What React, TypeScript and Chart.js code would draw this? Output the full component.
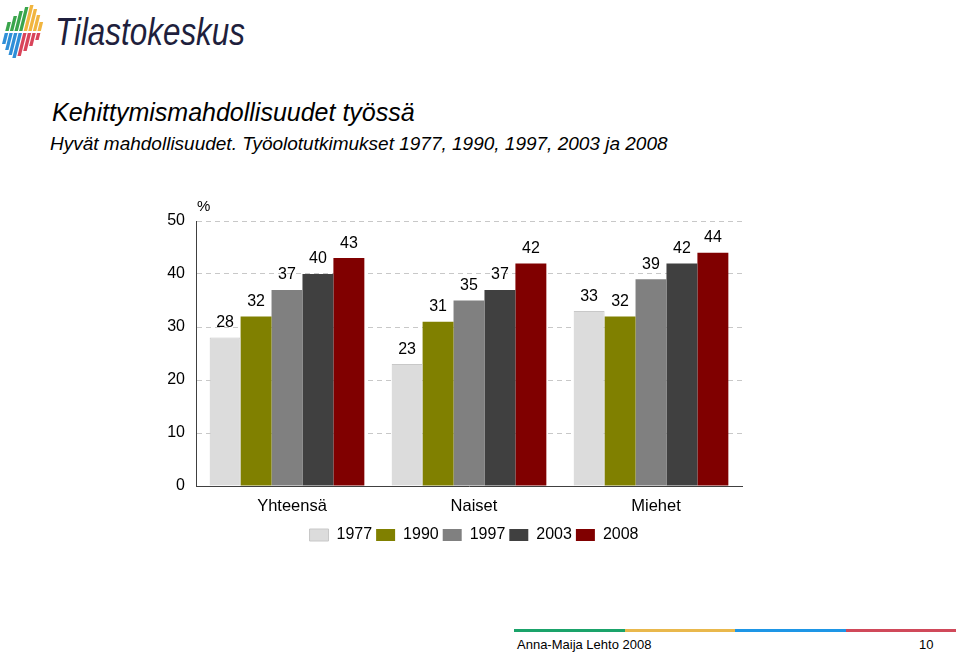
import React, { useEffect, useRef } from "react";
import { Chart, registerables } from "chart.js";

Chart.register(...registerables);

const FONT = "'Liberation Sans', Arial, sans-serif";

const categories = ["Yhteensä", "Naiset", "Miehet"];
const years = ["1977", "1990", "1997", "2003", "2008"];
const values1977 = [28, 23, 33];
const values1990 = [32, 31, 32];
const values1997 = [37, 35, 39];
const values2003 = [40, 37, 42];
const values2008 = [43, 42, 44];
const seriesColors = ["#dcdcdc", "#808000", "#808080", "#404040", "#800000"];
const yTicks = [0, 10, 20, 30, 40, 50];

const title = "Kehittymismahdollisuudet työssä";
const subtitle = "Hyvät mahdollisuudet. Työolotutkimukset 1977, 1990, 1997, 2003 ja 2008";
const author = "Anna-Maija Lehto 2008";
const pageNo = "10";

const valueLabels = {
  id: "valueLabels",
  afterDatasetsDraw(chart: any) {
    const ctx = chart.ctx;
    ctx.save();
    ctx.font = `16px ${FONT}`;
    ctx.fillStyle = "#000";
    ctx.textAlign = "center";
    ctx.textBaseline = "middle";
    chart.data.datasets.forEach((ds: any, di: number) => {
      const meta = chart.getDatasetMeta(di);
      meta.data.forEach((bar: any, i: number) => {
        ctx.fillText(String(ds.data[i]), bar.x, bar.y - 15);
      });
    });
    const a = chart.chartArea;
    ctx.textAlign = "left";
    ctx.font = `15px ${FONT}`;
    ctx.fillText("%", a.left + 1, a.top - 14);
    ctx.restore();
  },
};

function BarChart() {
  const ref = useRef<HTMLCanvasElement | null>(null);
  useEffect(() => {
    if (!ref.current) return;
    const all = [values1977, values1990, values1997, values2003, values2008];
    const chart = new Chart(ref.current, {
      type: "bar",
      data: {
        labels: categories,
        datasets: years.map((y, i) => ({
          label: y,
          data: all[i],
          backgroundColor: seriesColors[i],
          borderColor: i === 0 ? "#c8c8c8" : seriesColors[i],
          borderWidth: i === 0 ? 1 : 0,
          categoryPercentage: 0.85,
          barPercentage: 1,
        })),
      },
      options: {
        responsive: false,
        animation: false,
        layout: { padding: { top: 31, right: 0, left: 0, bottom: 0 } },
        plugins: {
          tooltip: { enabled: false },
          legend: {
            position: "bottom",
            labels: {
              boxWidth: 19,
              boxHeight: 12,
              padding: 4,
              color: "#000",
              font: { family: FONT, size: 16 },
            },
          },
        },
        scales: {
          x: {
            grid: { display: false, drawTicks: false },
            border: { display: true, color: "#404040", width: 1 },
            ticks: {
              color: "#000",
              font: { family: FONT, size: 16.5 },
              padding: 11,
              labelOffset: 5,
            },
            afterFit: (s: any) => {
              s.height = 37;
            },
          },
          y: {
            min: 0,
            max: 50,
            afterBuildTicks: (s: any) => {
              s.ticks = yTicks.map((v) => ({ value: v }));
            },
            grid: {
              drawTicks: false,
              color: (c: any) => (c.tick && c.tick.value === 0 ? "rgba(0,0,0,0)" : "#c8c8c8"),
            },
            border: { display: true, color: "#404040", width: 1, dash: [5, 4] },
            ticks: {
              color: "#000",
              font: { family: FONT, size: 16 },
              padding: 11,
            },
            afterFit: (s: any) => {
              s.width = 56;
            },
          },
          spacer: {
            type: "linear",
            position: "right",
            display: true,
            grid: { display: false, drawTicks: false },
            border: { display: false },
            ticks: { display: false },
            afterFit: (s: any) => {
              s.width = 66;
            },
          },
        },
      },
      plugins: [valueLabels],
    });
    return () => chart.destroy();
  }, []);
  return <canvas ref={ref} width={668} height={363} />;
}

function Logo() {
  const tops = [22, 16, 11, 7, 5, 9, 15, 22];
  const bots = [44, 50, 55, 58, 56, 51, 46, 40];
  const mid = 32;
  return (
    <svg width={260} height={64} style={{ position: "absolute", left: 0, top: 0 }}>
      <g transform="translate(9,0) skewX(-14)">
        {tops.map((t, i) => (
          <g key={i}>
            <rect x={4 + i * 4.6} y={t} width={3.4} height={mid - t - 1} fill={i < 4 ? "#3aa54c" : "#f1b53f"} />
            <rect x={4 + i * 4.6} y={mid + 1} width={3.4} height={bots[i] - mid - 1} fill={i < 4 ? "#2f8fd8" : "#d9445a"} />
          </g>
        ))}
      </g>
      <text
        x={55}
        y={45}
        fontFamily={FONT}
        fontStyle="italic"
        fontSize={39}
        textLength={190}
        lengthAdjust="spacingAndGlyphs"
        fill="#1f1f3d"
      >
        Tilastokeskus
      </text>
    </svg>
  );
}

export default function App() {
  const footerColors = ["#1aa36a", "#e9b84c", "#1e96e6", "#d0495a"];
  return (
    <div
      style={{
        position: "absolute",
        left: 0,
        top: 0,
        width: 960,
        height: 652,
        background: "#fff",
        fontFamily: FONT,
        overflow: "hidden",
      }}
    >
      <Logo />
      <div style={{ position: "absolute", left: 52, top: 98, fontSize: 25, lineHeight: "29px", fontStyle: "italic", color: "#000", whiteSpace: "nowrap" }}>
        {title}
      </div>
      <div style={{ position: "absolute", left: 50, top: 133, fontSize: 19, lineHeight: "22px", fontStyle: "italic", color: "#000", whiteSpace: "nowrap" }}>
        {subtitle}
      </div>
      <div style={{ position: "absolute", left: 140, top: 190 }}>
        <BarChart />
      </div>
      <div style={{ position: "absolute", left: 514, top: 629, width: 442, height: 3, display: "flex" }}>
        {footerColors.map((c) => (
          <div key={c} style={{ flex: 1, background: c }} />
        ))}
      </div>
      <div style={{ position: "absolute", left: 517, top: 637, fontSize: 13, color: "#000" }}>{author}</div>
      <div style={{ position: "absolute", left: 919, top: 637, fontSize: 13, color: "#000" }}>{pageNo}</div>
    </div>
  );
}
